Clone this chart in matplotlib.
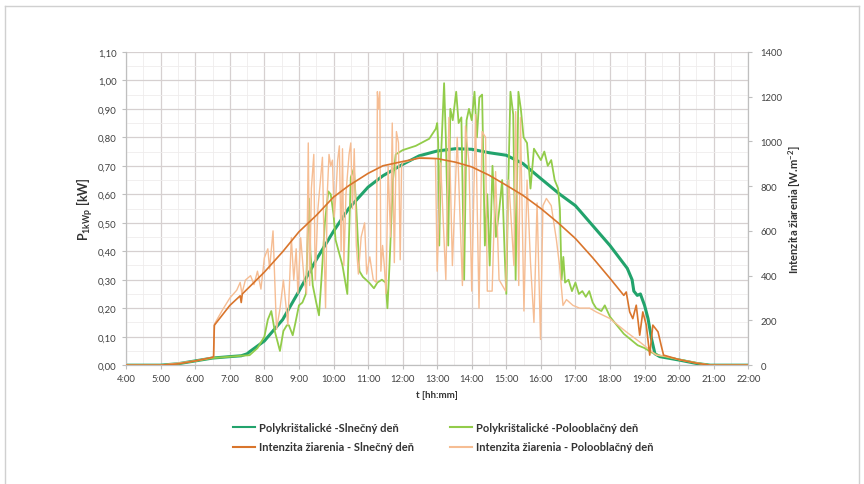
import matplotlib
matplotlib.use("Agg")
import matplotlib.pyplot as plt
from matplotlib.lines import Line2D
from matplotlib.ticker import FuncFormatter, MultipleLocator

plt.rcParams['font.family'] = ['Lato', 'DejaVu Sans']

# ---- data (time in decimal hours) ----
# Polycrystalline panel, sunny day [kW]
t_sun_p = [4.0, 5.0, 5.5, 6.0, 6.5, 7.0, 7.33, 7.5, 7.57, 8.0, 8.53, 9.0, 9.5, 10.0,
           10.44, 11.0, 11.43, 12.0, 12.48, 13.0, 13.53, 14.0, 14.5, 15.0, 15.48,
           16.0, 16.55, 17.0, 17.5, 18.0, 18.5, 18.64, 18.69, 18.79, 18.88, 19.0,
           19.1, 19.2, 19.3, 19.44, 20.0, 20.5, 20.9, 22.0]
p_sun = [0, 0, 0.005, 0.015, 0.025, 0.03, 0.033, 0.04, 0.047, 0.085, 0.16, 0.26,
         0.37, 0.47, 0.55, 0.625, 0.665, 0.705, 0.735, 0.752, 0.76, 0.758, 0.746,
         0.737, 0.708, 0.655, 0.60, 0.56, 0.49, 0.42, 0.34, 0.30, 0.26, 0.245,
         0.25, 0.21, 0.164, 0.094, 0.04, 0.03, 0.018, 0.006, 0, 0]

# Polycrystalline panel, partly cloudy day [kW]
t_cld_p = [4.0, 5.0, 5.5, 6.0, 6.5, 7.0, 7.33, 7.57, 7.8, 8.0, 8.1, 8.2, 8.3, 8.45,
           8.55, 8.65, 8.71, 8.82, 8.9, 9.0, 9.1, 9.2, 9.29, 9.33, 9.4, 9.5, 9.58,
           9.65, 9.75, 9.85, 9.92, 10.0, 10.06, 10.15, 10.26, 10.33, 10.4, 10.5,
           10.59, 10.66, 10.75, 10.85, 11.03, 11.17, 11.27, 11.4, 11.51, 11.56,
           11.62, 11.72, 11.8, 12.0, 12.38, 12.77, 12.96, 13.0, 13.03, 13.06, 13.1,
           13.2, 13.25, 13.32, 13.38, 13.45, 13.55, 13.62, 13.7, 13.78, 13.85,
           13.92, 14.0, 14.08, 14.15, 14.22, 14.3, 14.38, 14.45, 14.52, 14.6,
           14.7, 14.8, 14.88, 14.95, 15.0, 15.05, 15.12, 15.2, 15.27, 15.35,
           15.42, 15.5, 15.6, 15.7, 15.8, 15.9, 16.0, 16.1, 16.2, 16.3, 16.4,
           16.5, 16.55, 16.6, 16.65, 16.7, 16.8, 16.9, 17.0, 17.1, 17.2, 17.3,
           17.4, 17.5, 17.6, 17.75, 17.85, 18.0, 18.2, 18.4, 18.6, 18.8, 19.0,
           19.2, 19.4, 19.6, 20.0, 20.5, 20.9, 22.0]
p_cld = [0, 0, 0.005, 0.015, 0.025, 0.03, 0.033, 0.035, 0.06, 0.10, 0.16, 0.19,
         0.12, 0.05, 0.12, 0.14, 0.14, 0.105, 0.15, 0.21, 0.22, 0.25, 0.585, 0.40,
         0.28, 0.22, 0.175, 0.30, 0.50, 0.61, 0.60, 0.53, 0.44, 0.40, 0.35, 0.30,
         0.25, 0.66, 0.69, 0.55, 0.33, 0.31, 0.29, 0.27, 0.29, 0.30, 0.29, 0.20,
         0.35, 0.65, 0.74, 0.755, 0.77, 0.795, 0.83, 0.85, 0.78, 0.42, 0.70, 0.99,
         0.80, 0.42, 0.90, 0.86, 0.96, 0.85, 0.87, 0.30, 0.86, 0.90, 0.86, 0.96,
         0.80, 0.94, 0.95, 0.42, 0.60, 0.35, 0.70, 0.45, 0.55, 0.65, 0.40, 0.25,
         0.60, 0.96, 0.88, 0.30, 0.96, 0.90, 0.80, 0.78, 0.62, 0.76, 0.74, 0.72,
         0.75, 0.70, 0.72, 0.65, 0.62, 0.55, 0.30, 0.38, 0.29, 0.30, 0.26, 0.29,
         0.25, 0.26, 0.24, 0.26, 0.22, 0.20, 0.19, 0.21, 0.17, 0.14, 0.11, 0.09,
         0.07, 0.06, 0.045, 0.035, 0.03, 0.02, 0.008, 0, 0]

# Irradiance, sunny day [W/m2]
t_sun_g = [4.0, 5.0, 5.5, 6.0, 6.5, 6.53, 6.55, 7.0, 7.3, 7.33, 7.36, 7.57, 8.0,
           8.53, 9.0, 9.5, 10.0, 10.44, 11.0, 11.43, 12.0, 12.48, 13.0, 13.53,
           14.0, 14.5, 15.0, 15.48, 16.0, 16.5, 17.0, 17.5, 18.0, 18.4, 18.47,
           18.57, 18.66, 18.76, 18.86, 18.95, 19.05, 19.15, 19.24, 19.39, 19.48,
           19.55, 20.0, 20.5, 20.9, 22.0]
g_sun = [0, 0, 6, 19, 35, 38, 178, 267, 310, 280, 318, 350, 416, 507, 596, 669,
         751, 802, 857, 891, 910, 925, 923, 907, 886, 849, 804, 759, 700, 636,
         566, 480, 388, 312, 327, 238, 208, 268, 134, 238, 179, 45, 179, 149, 89,
         45, 25, 9, 0, 0]

# Irradiance, partly cloudy day [W/m2]
t_cld_g = [4.0, 5.0, 6.0, 6.5, 6.53, 6.56, 6.8, 7.0, 7.2, 7.3, 7.35, 7.45, 7.6,
           7.7, 7.8, 7.9, 8.0, 8.1, 8.15, 8.25, 8.35, 8.45, 8.55, 8.68, 8.78, 8.85,
           8.92, 8.97, 9.05, 9.15, 9.22, 9.27, 9.31, 9.36, 9.43, 9.47, 9.55, 9.68,
           9.73, 9.77, 9.82, 9.87, 9.92, 9.97, 10.02, 10.07, 10.12, 10.17, 10.22,
           10.26, 10.3, 10.36, 10.45, 10.5, 10.55, 10.6, 10.66, 10.72, 10.8, 10.9,
           10.96, 11.05, 11.15, 11.24, 11.27, 11.3, 11.34, 11.37, 11.42, 11.47,
           11.52, 11.58, 11.65, 11.7, 11.76, 11.82, 11.88, 11.93, 11.97, 12.0,
           12.5, 12.95, 13.0, 13.1, 13.25, 13.34, 13.44, 13.58, 13.73, 13.82,
           13.92, 14.0, 14.11, 14.21, 14.3, 14.4, 14.45, 14.59, 14.69, 14.79,
           14.98, 15.07, 15.22, 15.27, 15.36, 15.41, 15.51, 15.6, 15.7, 15.8,
           15.89, 15.99, 16.06, 16.16, 16.3, 16.45, 16.54, 16.64, 16.74, 16.93,
           17.12, 17.41, 17.6, 17.99, 18.47, 18.86, 19.34, 19.6, 20.0, 20.5, 20.9,
           22.0]
g_cld = [0, 0, 19, 35, 40, 185, 250, 300, 335, 370, 320, 380, 400, 360, 420, 340,
         480, 520, 430, 600, 160, 250, 380, 180, 570, 380, 520, 320, 570, 380,
         320, 993, 356, 790, 942, 380, 700, 929, 510, 255, 764, 942, 890, 916,
         662, 764, 916, 980, 510, 967, 445, 764, 942, 993, 700, 967, 535, 407,
         573, 636, 407, 484, 382, 370, 1222, 1145, 1222, 420, 535, 445, 320, 890,
         573, 1082, 458, 1044, 993, 471, 890, 904, 929, 923, 420, 904, 382, 1107,
         445, 1018, 356, 1069, 904, 331, 1120, 255, 1044, 1018, 331, 331, 865,
         382, 331, 827, 445, 1133, 356, 1107, 242, 827, 458, 191, 725, 115, 713,
         745, 713, 560, 445, 267, 293, 267, 255, 255, 238, 209, 149, 104, 45, 40,
         25, 10, 0, 0]

hours = list(range(4, 23))

c_sun_p = '#22a36c'
c_cld_p = '#92cc4a'
c_sun_g = '#d9752c'
c_cld_g = '#f6bd93'

fig = plt.figure(figsize=(8.64, 4.85), dpi=100)
ax = fig.add_axes([0.146, 0.245, 0.72, 0.646])
ax2 = ax.twinx()

grid_c = '#d6d0d0'
ax.set_xlim(4, 22)
ax.set_ylim(0, 1.10)
ax2.set_ylim(0, 1400)
ax.set_xticks(hours)
ax.xaxis.set_minor_locator(MultipleLocator(0.5))
ax.yaxis.set_major_locator(MultipleLocator(0.1))
ax.yaxis.set_minor_locator(MultipleLocator(0.05))
ax2.yaxis.set_major_locator(MultipleLocator(200))
ax.grid(True, which='major', color=grid_c, lw=0.9)
ax.grid(True, which='minor', color='#efecec', lw=0.6)
ax.set_axisbelow(True)

ax.xaxis.set_major_formatter(FuncFormatter(lambda v, p: '%d:00' % round(v)))
ax.yaxis.set_major_formatter(FuncFormatter(lambda v, p: ('%.2f' % v).replace('.', ',')))

ax.plot(t_sun_p, p_sun, color=c_sun_p, lw=2.2, zorder=3)
ax.plot(t_cld_p, p_cld, color=c_cld_p, lw=1.3, zorder=4)
ax2.plot(t_cld_g, g_cld, color=c_cld_g, lw=1.0, zorder=3)
ax2.plot(t_sun_g, g_sun, color=c_sun_g, lw=1.2, zorder=4)

for a in (ax, ax2):
    for s in a.spines.values():
        s.set_color('#bfbfbf')
    a.spines['top'].set_visible(False)
    a.tick_params(which='both', colors='#bfbfbf', labelcolor='#404040',
                  labelsize=6.8, length=3)
    a.tick_params(which='minor', length=0)
ax.tick_params(axis='y', pad=4)
ax2.tick_params(axis='y', pad=6)

ax.set_xlabel('t [hh:mm]', fontsize=7, fontweight='bold', color='#333333', labelpad=5)
ax.set_ylabel(r'P$_\mathregular{1kWp}$ [kW]', fontsize=9, fontweight='bold',
              color='#333333', labelpad=2)
ax2.set_ylabel(r'Intenzita žiarenia [W.m$^\mathregular{-2}$]', fontsize=8,
               fontweight='bold', color='#333333', labelpad=3)

handles = [Line2D([], [], color=c_sun_p, lw=1.5), Line2D([], [], color=c_sun_g, lw=1.5),
           Line2D([], [], color=c_cld_p, lw=1.5), Line2D([], [], color=c_cld_g, lw=1.5)]
labels = ['Polykrištalické -Slnečný deň', 'Intenzita žiarenia - Slnečný deň',
          'Polykrištalické -Polooblačný deň', 'Intenzita žiarenia - Polooblačný deň']
leg = fig.legend(handles, labels, ncol=2, loc='center', bbox_to_anchor=(0.513, 0.097),
                 frameon=False, handlelength=2.0, handletextpad=0.4,
                 columnspacing=3.2, labelspacing=0.8,
                 prop={'weight': 'bold', 'size': 8})
for t in leg.get_texts():
    t.set_color('#333333')

# light frame around the picture
frame_c = '#d0d0d0'
fig.add_artist(Line2D([5 / 864, 859 / 864], [1 - 7 / 485, 1 - 7 / 485], color=frame_c, lw=1))
fig.add_artist(Line2D([5 / 864, 5 / 864], [0, 1 - 7 / 485], color=frame_c, lw=1))
fig.add_artist(Line2D([859 / 864, 859 / 864], [0, 1 - 7 / 485], color=frame_c, lw=1))

fig.savefig('out.png', dpi=100)
